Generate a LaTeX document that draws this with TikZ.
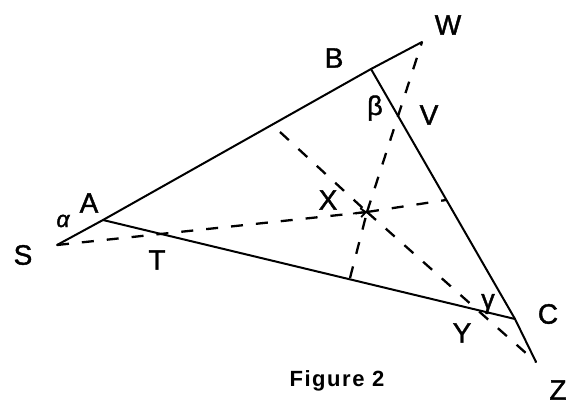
\documentclass[tikz,border=0pt]{standalone}
\usepackage{fontspec}
\setmainfont{Liberation Sans}
\newfontfamily\handfont[FakeBold=1.4]{Liberation Sans}
\newfontfamily\figfont[LetterSpace=7]{Liberation Sans}
\usetikzlibrary{arrows.meta}
\begin{document}
\begin{tikzpicture}[x=1pt,y=-1pt,
  solidline/.style={line width=2pt, line cap=round, line join=round},
  dashline/.style={line width=2.3pt, dash pattern=on 12pt off 13pt},
  lbl/.style={font=\handfont\fontsize{28}{28}\selectfont, inner sep=0pt},
  greek/.style={font=\handfont\fontsize{27}{27}\selectfont, inner sep=0pt}]
\useasboundingbox (0,0) rectangle (573,407);
% points
\coordinate (A) at (103,220);
\coordinate (S) at (57,245);
\coordinate (B) at (371,69);
\coordinate (W) at (422,42);
\coordinate (C) at (515,319);
\coordinate (Z) at (536,362);
\coordinate (X) at (367,212);
\coordinate (Pab) at (280,132);
\coordinate (Pbc) at (446,200);
\coordinate (Pac) at (350,278);
% solid sides
\draw[solidline] (S) -- (A) -- (B) -- (W);
\draw[solidline] (B) -- (C) -- (Z);
\draw[solidline] (A) -- (C);
% dashed lines through X
\draw[dashline] (S) -- (X);
\draw[line width=1.8pt, -{Straight Barb[length=5pt,width=9pt]}] (353,213.5) -- (X);
\draw[dashline] (X) -- (Pbc);
\draw[dashline] (Pab) -- (X);
\draw[dashline] (X) -- (Z);
\draw[dashline] (Pac) -- (X);
\draw[dashline] (X) -- (W);
% labels
\node[lbl] (lW) at (448,25) {W};
\node[lbl] (lB) at (334,58) {B};
\node[lbl] (lV) at (429,115) {V};
\node[lbl] (lA) at (89,203) {A};
\node[lbl] (lS) at (23,255) {S};
\node[lbl] (lT) at (157,260) {T};
\node[lbl] (lX) at (328,200) {X};
\node[lbl] (lC) at (548,314) {C};
\node[lbl] (lY) at (462,333) {Y};
\node[lbl] (lZ) at (558,390) {Z};
\node[greek] (lbeta) at (375,108) {β};
\node[greek, font=\handfont\fontsize{23}{23}\selectfont\itshape] (lalpha) at (63,221) {α};
\node[greek] (lgamma) at (488,304) {γ};
\node[font=\figfont\fontsize{22}{22}\selectfont\bfseries, inner sep=0pt] (cap) at (337,381) {Figure 2};
\end{tikzpicture}
\end{document}
